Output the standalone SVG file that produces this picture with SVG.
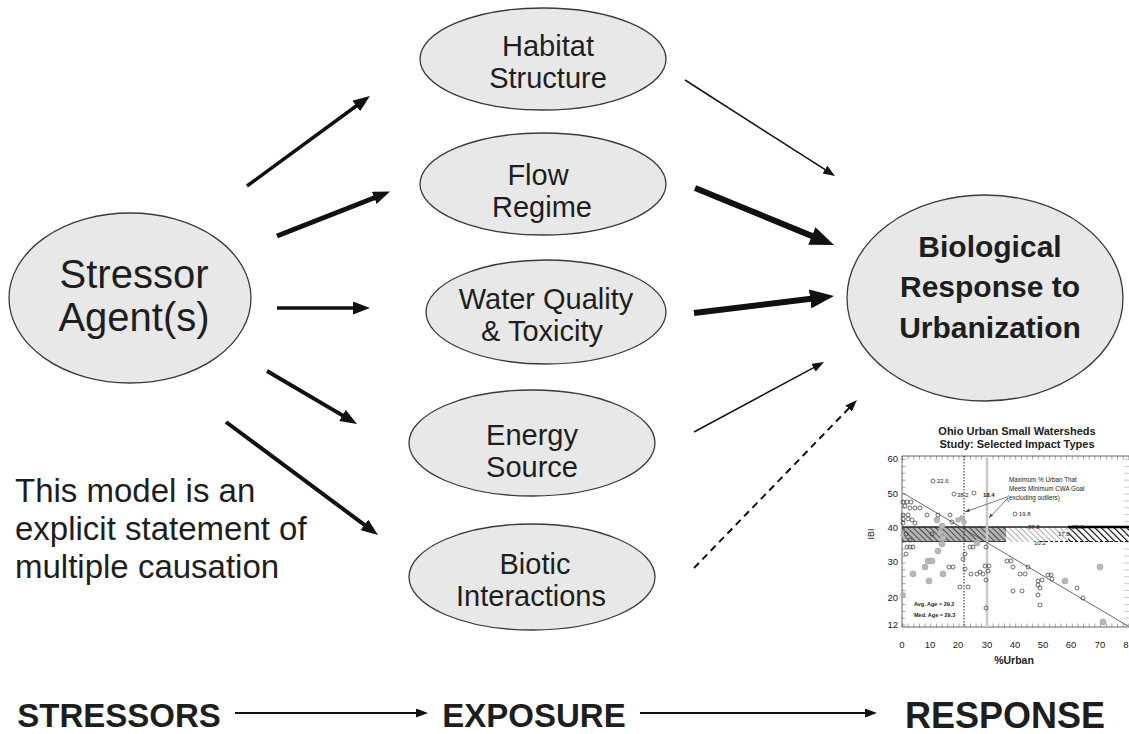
<svg xmlns="http://www.w3.org/2000/svg" width="1129" height="734" viewBox="0 0 1129 734">
<style>
.node ellipse{fill:#e8e8e8;stroke:#3a3a3a;stroke-width:1.3}
.lbl{font-family:"Liberation Sans",Arial,sans-serif;fill:#1e1e1e;text-anchor:middle}
.n{font-size:29px}
.big{font-size:40px}
.bold{font-weight:bold}
.note{font-family:"Liberation Sans",Arial,sans-serif;font-size:33px;fill:#1e1e1e}
.arr{stroke:#111;fill:none}
.ch{font-family:"Liberation Sans",Arial,sans-serif;fill:#222}
.pt{fill:none;stroke:#333;stroke-width:0.7}
.gp{fill:#b8b8b8;stroke:#999;stroke-width:0.5}
</style>
<defs>
<marker id="hs" markerUnits="userSpaceOnUse" markerWidth="12" markerHeight="9" refX="4" refY="4.5" orient="auto"><path d="M0,0 L12,4.5 L0,9 z" fill="#111"/></marker>
<marker id="hm" markerUnits="userSpaceOnUse" markerWidth="17" markerHeight="13" refX="5" refY="6.5" orient="auto"><path d="M0,0 L17,6.5 L0,13 z" fill="#111"/></marker>
<marker id="hl" markerUnits="userSpaceOnUse" markerWidth="24" markerHeight="19" refX="7" refY="9.5" orient="auto"><path d="M0,0 L24,9.5 L0,19 z" fill="#111"/></marker>
<pattern id="tx" patternUnits="userSpaceOnUse" x="902" y="0" width="5.66" height="10"><line x1="0.3" y1="0" x2="0.3" y2="10" stroke="#444" stroke-width="0.6"/></pattern>
<pattern id="ty" patternUnits="userSpaceOnUse" x="0" y="459" width="10" height="6.9"><line x1="0" y1="0.3" x2="10" y2="0.3" stroke="#444" stroke-width="0.6"/></pattern>
<pattern id="hatch" patternUnits="userSpaceOnUse" width="4" height="4" patternTransform="rotate(-45)"><line x1="0" y1="0" x2="0" y2="4" stroke="#000" stroke-width="1.6"/></pattern>
<pattern id="hatchb" patternUnits="userSpaceOnUse" width="4.5" height="4.5" patternTransform="rotate(-45)"><line x1="0" y1="0" x2="0" y2="4.5" stroke="#000" stroke-width="2.2"/></pattern>
</defs>
<rect width="1129" height="734" fill="#fff"/>

<g id="stressor" class="node"><ellipse cx="130" cy="298" rx="121" ry="85"/>
<text class="lbl big" x="134" y="288">Stressor</text><text class="lbl big" x="134" y="331">Agent(s)</text></g>

<g id="habitat" class="node"><ellipse cx="543" cy="59" rx="123" ry="51"/>
<text class="lbl n" x="548" y="56">Habitat</text><text class="lbl n" x="548" y="88">Structure</text></g>

<g id="flow" class="node"><ellipse cx="543" cy="184" rx="123" ry="51"/>
<text class="lbl n" x="538" y="185">Flow</text><text class="lbl n" x="542" y="217">Regime</text></g>

<g id="water" class="node"><ellipse cx="546" cy="312" rx="120" ry="52"/>
<text class="lbl n" x="546" y="309">Water Quality</text><text class="lbl n" x="542" y="341">&amp; Toxicity</text></g>

<g id="energy" class="node"><ellipse cx="532" cy="443" rx="123" ry="53"/>
<text class="lbl n" x="532" y="445">Energy</text><text class="lbl n" x="532" y="477">Source</text></g>

<g id="biotic" class="node"><ellipse cx="532" cy="577" rx="123" ry="53"/>
<text class="lbl n" x="535" y="574">Biotic</text><text class="lbl n" x="531" y="606">Interactions</text></g>

<g id="response" class="node"><ellipse cx="985" cy="298" rx="138" ry="103"/>
<text class="lbl bold" font-size="30" x="990" y="257">Biological</text>
<text class="lbl bold" font-size="30" x="990" y="297">Response to</text>
<text class="lbl bold" font-size="30" x="990" y="338">Urbanization</text></g>

<g id="connectors">
<line class="arr" x1="247" y1="186" x2="360.3" y2="103" stroke-width="3.5" marker-end="url(#hm)"/>
<line class="arr" x1="277" y1="236" x2="378.9" y2="196" stroke-width="5" marker-end="url(#hm)"/>
<line class="arr" x1="277" y1="308" x2="358" y2="308" stroke-width="3.5" marker-end="url(#hm)"/>
<line class="arr" x1="267" y1="371" x2="346.7" y2="417.9" stroke-width="4" marker-end="url(#hm)"/>
<line class="arr" x1="226" y1="422" x2="368.4" y2="527.8" stroke-width="4" marker-end="url(#hm)"/>
<line class="arr" x1="685" y1="80" x2="828.3" y2="171.7" stroke-width="1.5" marker-end="url(#hs)"/>
<line class="arr" x1="695" y1="188" x2="818.3" y2="238.6" stroke-width="6" marker-end="url(#hl)"/>
<line class="arr" x1="694" y1="313" x2="817.1" y2="298.1" stroke-width="6" marker-end="url(#hl)"/>
<line class="arr" x1="694" y1="432" x2="817" y2="365.8" stroke-width="1.5" marker-end="url(#hs)"/>
<line class="arr" x1="694" y1="568" x2="851.4" y2="405.7" stroke-width="2" stroke-dasharray="7 5" marker-end="url(#hs)"/>
<line class="arr" x1="235" y1="713" x2="420" y2="713" stroke-width="2" marker-end="url(#hs)"/>
<line class="arr" x1="640" y1="713" x2="869" y2="713" stroke-width="2" marker-end="url(#hs)"/>
</g>

<g id="note">
<text class="note" x="15" y="502">This model is an</text>
<text class="note" x="15" y="540">explicit statement of</text>
<text class="note" x="15" y="578">multiple causation</text>
</g>

<g id="axis-labels">
<text class="lbl bold" font-size="33" x="119" y="727">STRESSORS</text>
<text class="lbl bold" font-size="33" x="534" y="727">EXPOSURE</text>
<text class="lbl bold" font-size="36" x="1005" y="728">RESPONSE</text>
</g>

<g id="chart">
<text class="ch" font-weight="bold" font-size="11" text-anchor="middle" x="1017" y="435">Ohio Urban Small Watersheds</text>
<text class="ch" font-weight="bold" font-size="11" text-anchor="middle" x="1017" y="448">Study:  Selected Impact Types</text>
<rect x="902" y="527" width="104" height="15" fill="#b4b4b4"/>
<rect x="902" y="527" width="104" height="15" fill="url(#hatch)" opacity="0.75"/>
<rect x="1006" y="527" width="62" height="15" fill="url(#hatch)" opacity="0.4"/>
<rect x="1068" y="527" width="61" height="15" fill="url(#hatchb)"/>
<line x1="902" y1="527" x2="1129" y2="527" stroke="#222" stroke-width="1.5"/>
<line x1="1068" y1="527" x2="1129" y2="527" stroke="#000" stroke-width="2.5"/>
<line x1="902" y1="541.5" x2="1006" y2="541.5" stroke="#444" stroke-width="1"/>
<line x1="1040" y1="541.5" x2="1129" y2="541.5" stroke="#222" stroke-width="1" stroke-dasharray="3 2"/>
<path d="M902,456 H1129 M902,456 V627 H1129" fill="none" stroke="#555" stroke-width="0.9"/>
<rect x="902" y="456" width="227" height="3.5" fill="url(#tx)"/>
<rect x="902" y="623.5" width="227" height="3.5" fill="url(#tx)"/>
<rect x="902" y="456" width="3.5" height="171" fill="url(#ty)"/>
<rect x="1124" y="456" width="5" height="171" fill="url(#ty)" opacity="0.6"/>
<line x1="987" y1="456" x2="987" y2="627" stroke="#c8c8c8" stroke-width="2.5"/>
<line x1="964" y1="456" x2="964" y2="627" stroke="#222" stroke-width="1" stroke-dasharray="1.5 1.5"/>
<line x1="903" y1="493" x2="1128" y2="626" stroke="#444" stroke-width="0.8"/>
<g class="ch" font-size="9.5" text-anchor="end" fill="#333">
<text x="898" y="462">60</text><text x="898" y="497">50</text><text x="898" y="531">40</text>
<text x="898" y="565">30</text><text x="898" y="601">20</text><text x="898" y="628">12</text>
</g>
<g class="ch" font-size="9.5" text-anchor="middle" fill="#333">
<text x="902" y="648">0</text><text x="930" y="648">10</text><text x="958" y="648">20</text><text x="987" y="648">30</text>
<text x="1015" y="648">40</text><text x="1043" y="648">50</text><text x="1071" y="648">60</text><text x="1100" y="648">70</text><text x="1126" y="648">8</text>
</g>
<text class="ch" font-weight="bold" font-size="10.5" text-anchor="middle" x="1014" y="664">%Urban</text>
<text class="ch" font-size="9" text-anchor="middle" transform="translate(874,534) rotate(-90)">IBI</text>
<g class="ch" font-size="6.3" fill="#333">
<text x="1009" y="482">Maximum % Urban That</text>
<text x="1009" y="491">Meets Minimum CWA Goal</text>
<text x="1007" y="500">(excluding outliers)</text>
</g>
<path d="M1007,497 L965,512 M1008,498 L989,518" stroke="#444" stroke-width="0.7" fill="none"/>
<path d="M965,512 l4,-3.5 l1,3 z M989,518 l1.5,-4.5 l2.3,2.2 z" fill="#444"/>
<g class="ch" font-size="6" fill="#333">
<text x="937" y="483">22.6</text><text x="957" y="497">38.2</text><text x="983" y="497" font-weight="bold">18.4</text>
<text x="1019" y="516">19.8</text><text x="1028" y="529">37.8</text><text x="1072" y="529">29.8</text>
<text x="1058" y="536">17.5</text><text x="1034" y="545">10.2</text>
<text x="914" y="606" font-weight="bold" font-size="5.5">Avg. Age = 29.2</text>
<text x="914" y="617" font-weight="bold" font-size="5.5">Med. Age = 29.3</text>
</g>
<g class="gp">
<circle cx="937" cy="520" r="3"/><circle cx="942" cy="526" r="3"/><circle cx="940" cy="533" r="3"/>
<circle cx="943" cy="538" r="3"/><circle cx="942" cy="544" r="3"/><circle cx="938" cy="551" r="3"/>
<circle cx="928" cy="561" r="3"/><circle cx="932" cy="561" r="3"/><circle cx="925" cy="567" r="3"/>
<circle cx="913" cy="574" r="3"/><circle cx="943" cy="574" r="3"/><circle cx="929" cy="581" r="3"/>
<circle cx="977" cy="543" r="3"/><circle cx="1065" cy="581" r="3"/><circle cx="1100" cy="567" r="3"/>
<circle cx="1103" cy="622" r="3"/><circle cx="903" cy="595" r="2.5"/><circle cx="903" cy="535" r="2.5"/>
<circle cx="962" cy="518" r="2.5"/><circle cx="964" cy="522" r="2.5"/><circle cx="958" cy="520" r="2.5"/>
</g>
<g class="pt">
<circle cx="933" cy="481" r="2"/><circle cx="954" cy="494" r="2"/><circle cx="974" cy="493" r="2"/><circle cx="1015" cy="514" r="2"/>
<circle cx="903" cy="502" r="2"/><circle cx="907" cy="502" r="2"/><circle cx="911" cy="502" r="2"/><circle cx="905" cy="506" r="2"/>
<circle cx="910" cy="508" r="2"/><circle cx="915" cy="508" r="2"/><circle cx="920" cy="508" r="2"/>
<circle cx="903" cy="515" r="2"/><circle cx="908" cy="515" r="2"/><circle cx="903" cy="519" r="2"/><circle cx="908" cy="519" r="2"/>
<circle cx="912" cy="520" r="2"/><circle cx="903" cy="523" r="2"/><circle cx="915" cy="523" r="2"/>
<circle cx="927" cy="515" r="2"/><circle cx="938" cy="515" r="2"/><circle cx="950" cy="515" r="2"/><circle cx="952" cy="522" r="2"/>
<circle cx="907" cy="547" r="2"/><circle cx="910" cy="547" r="2"/><circle cx="913" cy="547" r="2"/><circle cx="906" cy="554" r="2"/>
<circle cx="970" cy="547" r="2"/><circle cx="973" cy="547" r="2"/><circle cx="965" cy="554" r="2"/><circle cx="986" cy="547" r="2"/>
<circle cx="963" cy="559" r="2"/><circle cx="965" cy="569" r="2"/><circle cx="949" cy="567" r="2"/><circle cx="953" cy="567" r="2"/>
<circle cx="985" cy="566" r="2"/><circle cx="989" cy="566" r="2"/><circle cx="988" cy="571" r="2"/>
<circle cx="971" cy="574" r="2"/><circle cx="977" cy="574" r="2"/><circle cx="980" cy="572" r="2"/><circle cx="983" cy="574" r="2"/>
<circle cx="986" cy="580" r="2"/><circle cx="960" cy="587" r="2"/><circle cx="968" cy="587" r="2"/><circle cx="986" cy="608" r="2"/>
<circle cx="1007" cy="561" r="2"/><circle cx="1011" cy="561" r="2"/><circle cx="1013" cy="567" r="2"/>
<circle cx="1020" cy="574" r="2"/><circle cx="1025" cy="574" r="2"/><circle cx="1028" cy="567" r="2"/>
<circle cx="1013" cy="591" r="2"/><circle cx="1022" cy="591" r="2"/>
<circle cx="1038" cy="581" r="2"/><circle cx="1038" cy="585" r="2"/><circle cx="1040" cy="588" r="2"/><circle cx="1038" cy="595" r="2"/>
<circle cx="1040" cy="605" r="2"/><circle cx="1048" cy="575" r="2"/><circle cx="1051" cy="575" r="2"/><circle cx="1052" cy="579" r="2"/>
<circle cx="1042" cy="580" r="2"/><circle cx="1077" cy="588" r="2"/><circle cx="1083" cy="598" r="2"/>
<circle cx="906" cy="534" r="2"/><circle cx="910" cy="540" r="2"/><circle cx="932" cy="534" r="2"/>
</g>
</g>
</svg>
